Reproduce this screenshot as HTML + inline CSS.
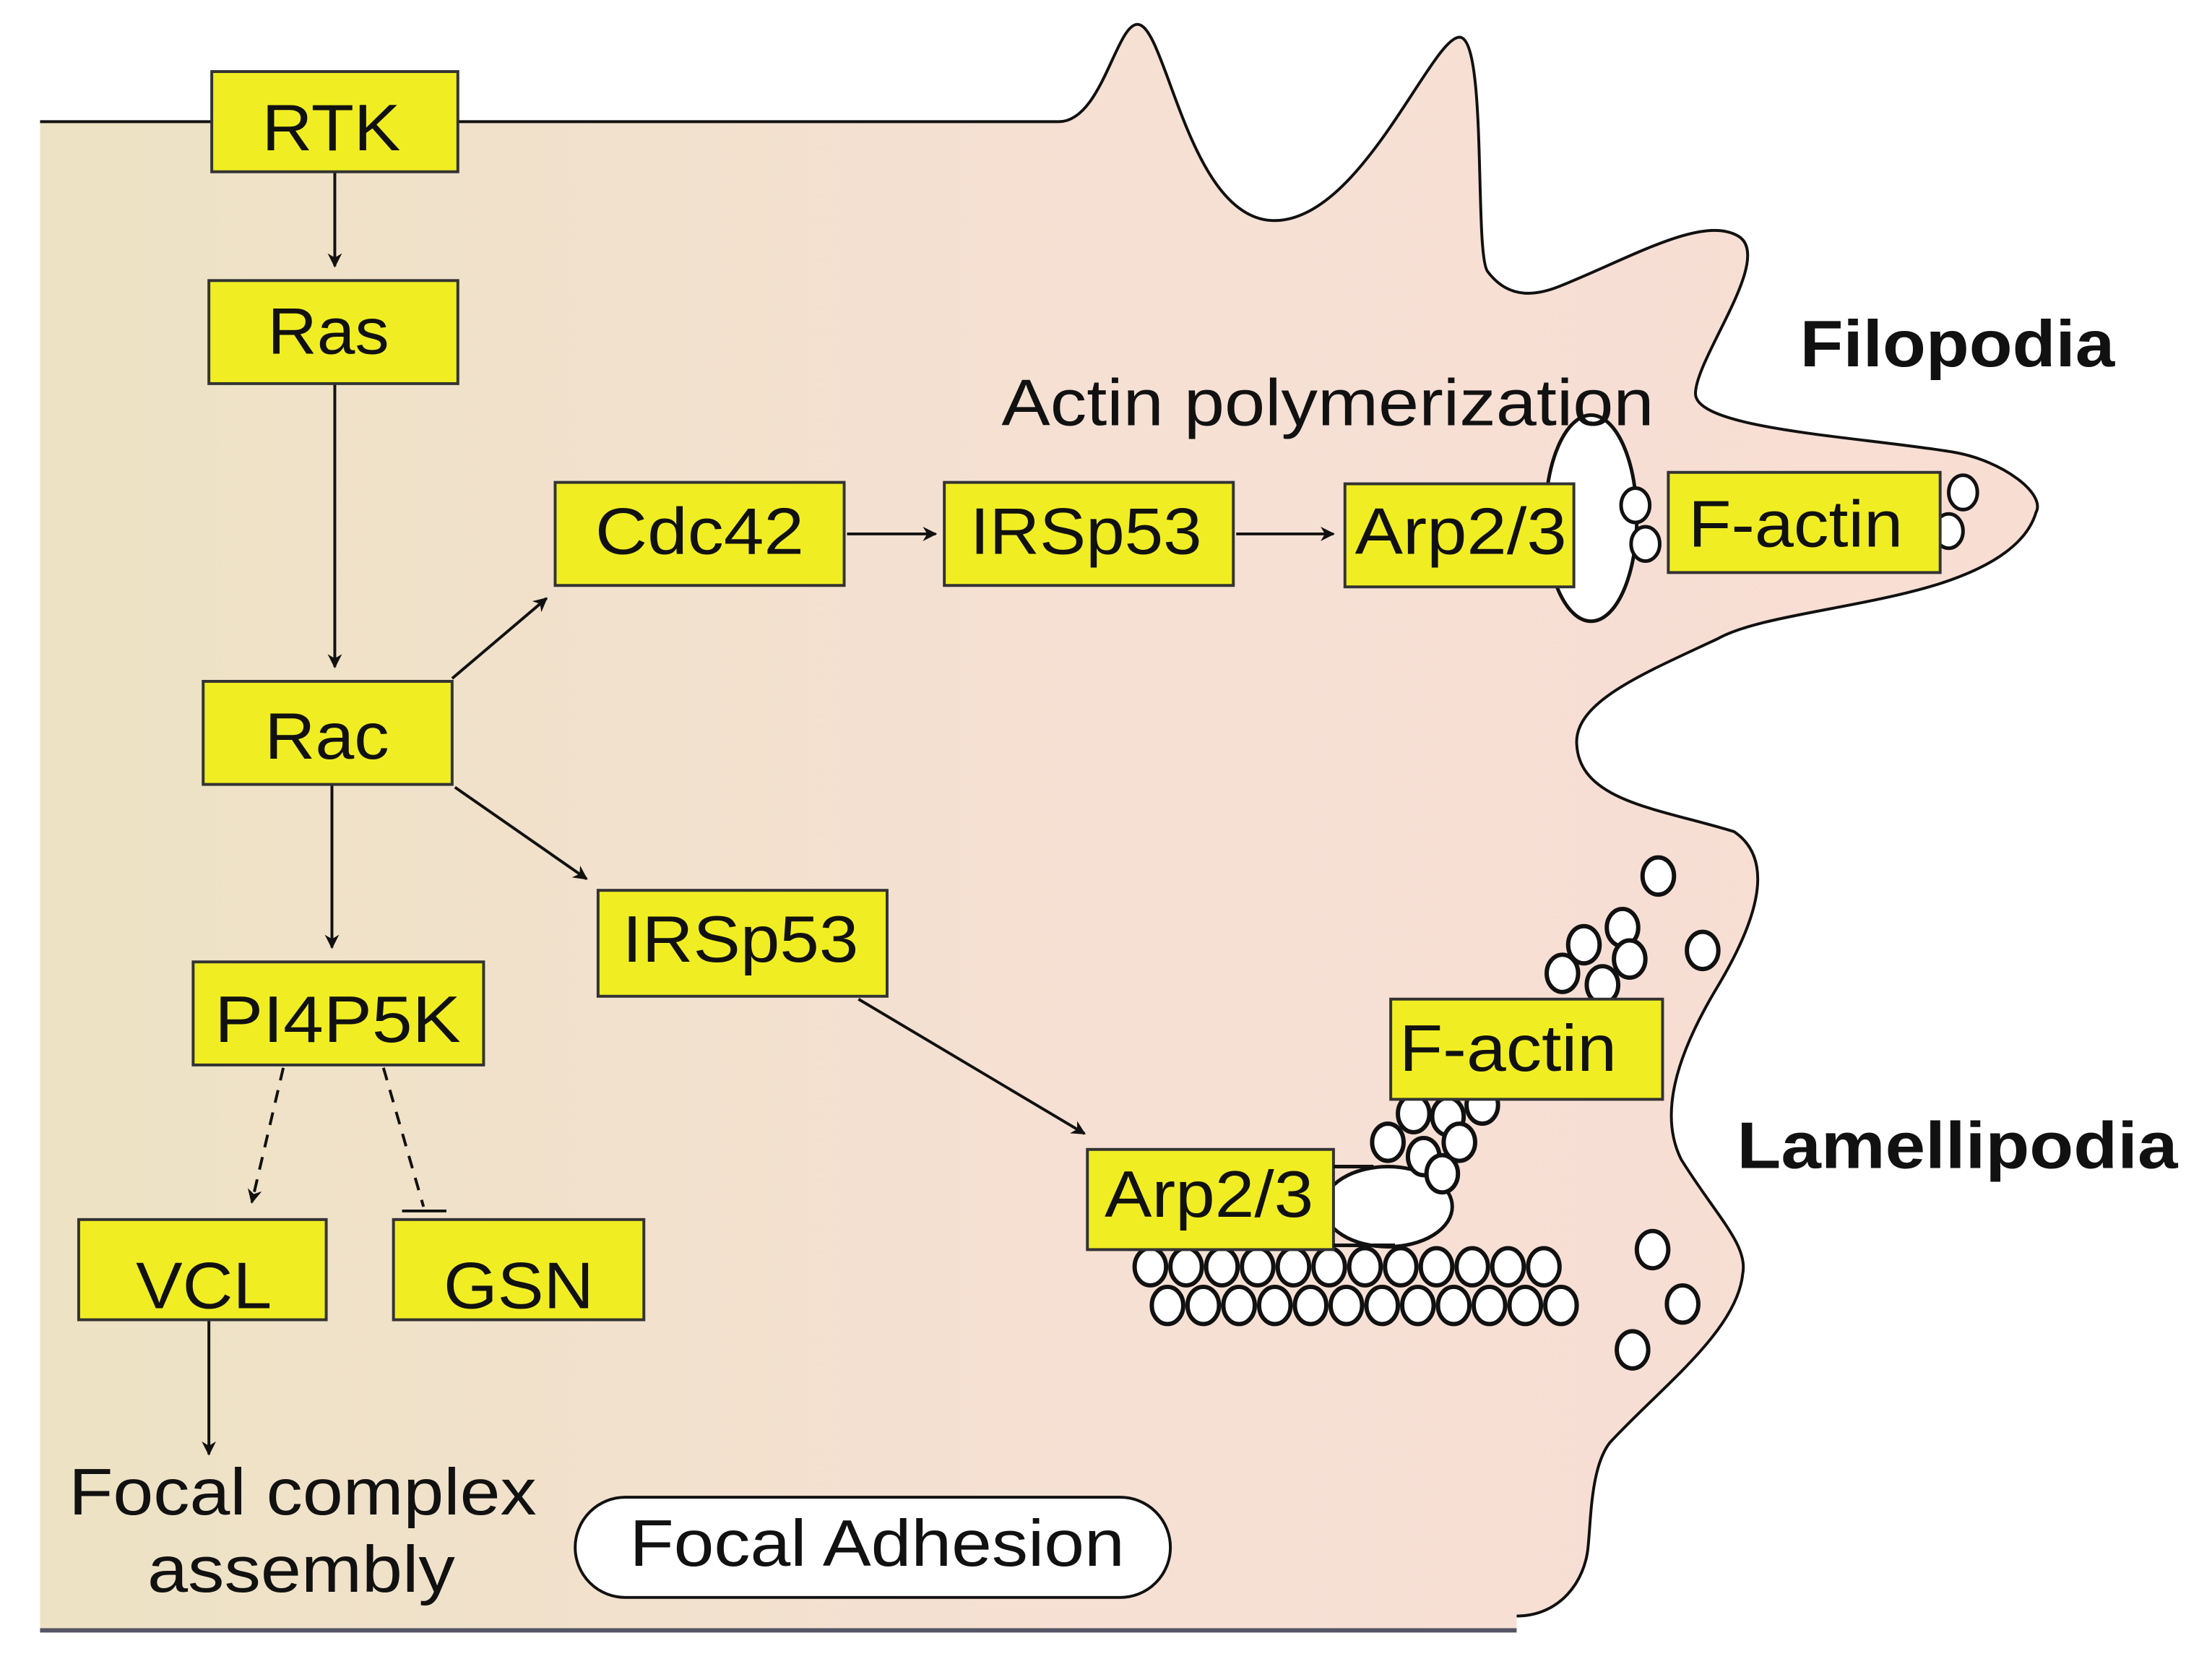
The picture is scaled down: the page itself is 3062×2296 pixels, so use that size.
<!DOCTYPE html>
<html><head><meta charset="utf-8"><style>html,body{margin:0;padding:0;background:#fff}svg{display:block}</style></head><body>
<svg width="3062" height="2296" viewBox="0 0 1546 1159" preserveAspectRatio="none" xmlns="http://www.w3.org/2000/svg" font-family="Liberation Sans, Arial, sans-serif">
<defs>
<linearGradient id="g" x1="0" y1="0" x2="1" y2="0">
<stop offset="0" stop-color="#ede2c4"/><stop offset="0.55" stop-color="#f6e0d4"/><stop offset="1" stop-color="#f8ddd3"/>
</linearGradient>
<marker id="a" markerWidth="10" markerHeight="10" refX="9" refY="5" orient="auto" markerUnits="userSpaceOnUse"><path d="M0,0 L10,5 L0,10 L3,5 Z" fill="#111"/></marker>
</defs>
<path d="M28,85 L740,85 C770,85 780,17 795,17 C815,17 830,150 888,154 C950,158 1000,26 1020,26 C1040,26 1030,180 1040,190 C1055,210 1075,206 1090,200 C1140,180 1190,150 1215,165 C1240,180 1185,250 1185,275 C1185,300 1300,305 1366,316 C1400,322 1430,345 1423,358 C1415,385 1380,400 1355,408 C1300,425 1230,430 1201,446 C1150,470 1100,490 1102,520 C1104,560 1160,565 1212,581 C1240,600 1230,640 1200,690 C1170,740 1160,780 1175,810 C1200,850 1222,870 1218,890 C1214,930 1160,970 1125,1008 C1112,1025 1112,1060 1110,1080 C1108,1105 1090,1129 1060,1129 L1060,1140 L28,1140 Z" fill="url(#g)" stroke="none"/>
<path d="M28,85 L740,85 C770,85 780,17 795,17 C815,17 830,150 888,154 C950,158 1000,26 1020,26 C1040,26 1030,180 1040,190 C1055,210 1075,206 1090,200 C1140,180 1190,150 1215,165 C1240,180 1185,250 1185,275 C1185,300 1300,305 1366,316 C1400,322 1430,345 1423,358 C1415,385 1380,400 1355,408 C1300,425 1230,430 1201,446 C1150,470 1100,490 1102,520 C1104,560 1160,565 1212,581 C1240,600 1230,640 1200,690 C1170,740 1160,780 1175,810 C1200,850 1222,870 1218,890 C1214,930 1160,970 1125,1008 C1112,1025 1112,1060 1110,1080 C1108,1105 1090,1129 1060,1129" fill="none" stroke="#111" stroke-width="2"/>
<line x1="28" y1="1139" x2="1060" y2="1139" stroke="#556" stroke-width="3"/>

<g stroke="#111" stroke-width="2.5">
<ellipse cx="1112" cy="362" rx="32" ry="72" fill="#fff"/>
<ellipse cx="1143" cy="353" rx="10" ry="12" fill="#fff"/>
<ellipse cx="1150" cy="380" rx="10" ry="12" fill="#fff"/>
<ellipse cx="1372" cy="344" rx="10" ry="12" fill="#fff"/>
<ellipse cx="1362" cy="371" rx="10" ry="12" fill="#fff"/>
<ellipse cx="970" cy="843" rx="45" ry="28" fill="#fff"/>
</g>
<g stroke="#111" stroke-width="3" fill="#fff">
<ellipse cx="1159" cy="612" rx="11" ry="13"/>
<ellipse cx="1134" cy="648" rx="11" ry="13"/>
<ellipse cx="1107" cy="660" rx="11" ry="13"/>
<ellipse cx="1139" cy="670" rx="11" ry="13"/>
<ellipse cx="1092" cy="680" rx="11" ry="13"/>
<ellipse cx="1120" cy="688" rx="11" ry="13"/>
<ellipse cx="1190" cy="664" rx="11" ry="13"/>
<ellipse cx="1036" cy="772" rx="11" ry="13"/>
<ellipse cx="1012" cy="780" rx="11" ry="13"/>
<ellipse cx="988" cy="778" rx="11" ry="13"/>
<ellipse cx="1020" cy="798" rx="11" ry="13"/>
<ellipse cx="970" cy="798" rx="11" ry="13"/>
<ellipse cx="995" cy="808" rx="11" ry="13"/>
<ellipse cx="1008" cy="820" rx="11" ry="13"/>
<ellipse cx="1155" cy="873" rx="11" ry="13"/>
<ellipse cx="1176" cy="911" rx="11" ry="13"/>
<ellipse cx="1141" cy="943" rx="11" ry="13"/>
<ellipse cx="804" cy="885" rx="11" ry="13"/><ellipse cx="829" cy="885" rx="11" ry="13"/><ellipse cx="854" cy="885" rx="11" ry="13"/><ellipse cx="879" cy="885" rx="11" ry="13"/><ellipse cx="904" cy="885" rx="11" ry="13"/><ellipse cx="929" cy="885" rx="11" ry="13"/><ellipse cx="954" cy="885" rx="11" ry="13"/><ellipse cx="979" cy="885" rx="11" ry="13"/><ellipse cx="1004" cy="885" rx="11" ry="13"/><ellipse cx="1029" cy="885" rx="11" ry="13"/><ellipse cx="1054" cy="885" rx="11" ry="13"/><ellipse cx="1079" cy="885" rx="11" ry="13"/>
<ellipse cx="816" cy="912" rx="11" ry="13"/><ellipse cx="841" cy="912" rx="11" ry="13"/><ellipse cx="866" cy="912" rx="11" ry="13"/><ellipse cx="891" cy="912" rx="11" ry="13"/><ellipse cx="916" cy="912" rx="11" ry="13"/><ellipse cx="941" cy="912" rx="11" ry="13"/><ellipse cx="966" cy="912" rx="11" ry="13"/><ellipse cx="991" cy="912" rx="11" ry="13"/><ellipse cx="1016" cy="912" rx="11" ry="13"/><ellipse cx="1041" cy="912" rx="11" ry="13"/><ellipse cx="1066" cy="912" rx="11" ry="13"/><ellipse cx="1091" cy="912" rx="11" ry="13"/>
</g>

<g stroke="#111" stroke-width="2" fill="none">
<line x1="234" y1="120" x2="234" y2="186" marker-end="url(#a)"/>
<line x1="234" y1="268" x2="234" y2="466" marker-end="url(#a)"/>
<line x1="232" y1="548" x2="232" y2="662" marker-end="url(#a)"/>
<line x1="316" y1="474" x2="382" y2="418" marker-end="url(#a)"/>
<line x1="318" y1="550" x2="410" y2="614" marker-end="url(#a)"/>
<line x1="600" y1="698" x2="758" y2="792" marker-end="url(#a)"/>
<line x1="592" y1="373" x2="654" y2="373" marker-end="url(#a)"/>
<line x1="864" y1="373" x2="932" y2="373" marker-end="url(#a)"/>
<line x1="146" y1="922" x2="146" y2="1016" marker-end="url(#a)"/>
<line x1="198" y1="746" x2="176" y2="840" stroke-dasharray="9,7" marker-end="url(#a)"/>
<line x1="268" y1="746" x2="296" y2="843" stroke-dasharray="9,7"/>
<line x1="281" y1="846" x2="312" y2="846"/>
</g>

<g fill="#f0ee22" stroke="#333" stroke-width="2">
<rect x="148" y="50" width="172" height="70"/>
<rect x="146" y="196" width="174" height="72"/>
<rect x="142" y="476" width="174" height="72"/>
<rect x="135" y="672" width="203" height="72"/>
<rect x="55" y="852" width="173" height="70"/>
<rect x="275" y="852" width="175" height="70"/>
<rect x="388" y="337" width="202" height="72"/>
<rect x="660" y="337" width="202" height="72"/>
<rect x="940" y="338" width="160" height="72"/>
<rect x="1166" y="330" width="190" height="70"/>
<rect x="418" y="622" width="202" height="74"/>
<rect x="972" y="698" width="190" height="70"/>
<rect x="760" y="803" width="172" height="70"/>
</g>
<line x1="932" y1="815" x2="960" y2="815" stroke="#111" stroke-width="2.5"/>
<line x1="932" y1="870" x2="975" y2="870" stroke="#111" stroke-width="2.5"/>

<g fill="#111" font-size="46" lengthAdjust="spacingAndGlyphs">
<text x="183" y="105" textLength="97" lengthAdjust="spacingAndGlyphs">RTK</text>
<text x="187" y="247" textLength="85" lengthAdjust="spacingAndGlyphs">Ras</text>
<text x="185" y="530" textLength="87" lengthAdjust="spacingAndGlyphs">Rac</text>
<text x="150" y="728" textLength="172" lengthAdjust="spacingAndGlyphs">PI4P5K</text>
<text x="95" y="914" textLength="95" lengthAdjust="spacingAndGlyphs">VCL</text>
<text x="310" y="914" textLength="105" lengthAdjust="spacingAndGlyphs">GSN</text>
<text x="416" y="387" textLength="146" lengthAdjust="spacingAndGlyphs">Cdc42</text>
<text x="678" y="387" textLength="162" lengthAdjust="spacingAndGlyphs">IRSp53</text>
<text x="947" y="387" textLength="148" lengthAdjust="spacingAndGlyphs">Arp2/3</text>
<text x="1180" y="382" textLength="150" lengthAdjust="spacingAndGlyphs">F-actin</text>
<text x="435" y="672" textLength="165" lengthAdjust="spacingAndGlyphs">IRSp53</text>
<text x="978" y="748" textLength="152" lengthAdjust="spacingAndGlyphs">F-actin</text>
<text x="772" y="850" textLength="146" lengthAdjust="spacingAndGlyphs">Arp2/3</text>
<text x="700" y="297" textLength="456" lengthAdjust="spacingAndGlyphs">Actin polymerization</text>
<text x="48" y="1058" textLength="327" lengthAdjust="spacingAndGlyphs">Focal complex</text>
<text x="103" y="1112" textLength="215" lengthAdjust="spacingAndGlyphs">assembly</text>
</g>
<rect x="402" y="1046" width="416" height="70" rx="35" fill="#fff" stroke="#111" stroke-width="2"/>
<text x="440" y="1094" font-size="46" fill="#111" textLength="346" lengthAdjust="spacingAndGlyphs">Focal Adhesion</text>
<text x="1258" y="256" font-size="46" font-weight="bold" fill="#111" textLength="220" lengthAdjust="spacingAndGlyphs">Filopodia</text>
<text x="1214" y="816" font-size="46" font-weight="bold" fill="#111" textLength="308" lengthAdjust="spacingAndGlyphs">Lamellipodia</text>
</svg>
</body></html>
